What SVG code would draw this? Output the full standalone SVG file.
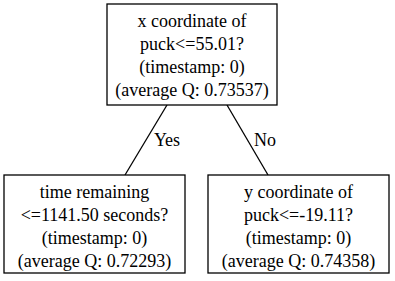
<svg xmlns="http://www.w3.org/2000/svg" width="395" height="281" viewBox="0 0 395 281">
<style>
.box{fill:#fff;stroke:#000;stroke-width:1.3}
.t{font-family:"Liberation Serif","Times New Roman",serif;font-size:18px;text-anchor:middle;fill:#000}
.e{stroke:#000;stroke-width:1.3;fill:none}
</style>
<rect width="395" height="281" fill="#fff"/>
<g id="connectors">
<line class="e" x1="167" y1="105" x2="125" y2="175"/>
<line class="e" x1="227" y1="105" x2="268" y2="175"/>
<text class="t" x="167" y="146">Yes</text>
<text class="t" x="265" y="146">No</text>
</g>
<g id="root">
<rect class="box" x="107" y="4" width="170" height="101"/>
<text class="t" x="192" y="27">x coordinate of</text>
<text class="t" x="192" y="50">puck&lt;=55.01?</text>
<text class="t" x="192" y="73">(timestamp: 0)</text>
<text class="t" x="192" y="96">(average Q: 0.73537)</text>
</g>
<g id="left">
<rect class="box" x="4" y="175" width="181" height="98"/>
<text class="t" x="94.5" y="198">time remaining</text>
<text class="t" x="94.5" y="221">&lt;=1141.50 seconds?</text>
<text class="t" x="94.5" y="244">(timestamp: 0)</text>
<text class="t" x="94.5" y="267">(average Q: 0.72293)</text>
</g>
<g id="right">
<rect class="box" x="208" y="175" width="181" height="98"/>
<text class="t" x="298.5" y="198">y coordinate of</text>
<text class="t" x="298.5" y="221">puck&lt;=-19.11?</text>
<text class="t" x="298.5" y="244">(timestamp: 0)</text>
<text class="t" x="298.5" y="267">(average Q: 0.74358)</text>
</g>
</svg>
